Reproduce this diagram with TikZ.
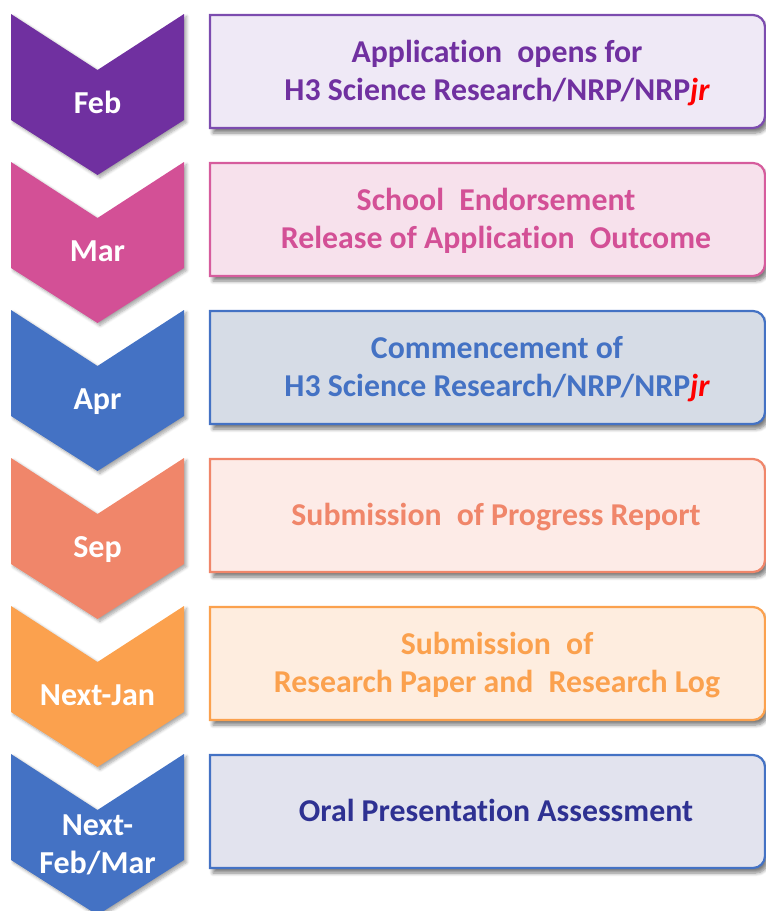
\documentclass[tikz,border=0pt]{standalone}
\usepackage{fontspec}
\setmainfont{Carlito}[RawFeature={-liga}]
\usetikzlibrary{shadows.blur}

% phase colours: chevron / panel fill / panel line / panel text
\definecolor{purpA}{HTML}{7030A0}
\definecolor{purpF}{HTML}{EFE9F6}
\definecolor{purpL}{HTML}{7C4CAF}
\definecolor{pinkA}{HTML}{D35096}
\definecolor{pinkF}{HTML}{F7E1EC}
\definecolor{pinkL}{HTML}{D65C9D}
\definecolor{blueA}{HTML}{4472C4}
\definecolor{blueF}{HTML}{D6DCE6}
\definecolor{salmA}{HTML}{F0866A}
\definecolor{salmF}{HTML}{FDEBE7}
\definecolor{orngA}{HTML}{FBA14E}
\definecolor{orngF}{HTML}{FEEDDF}
\definecolor{navyT}{HTML}{2E3192}
\definecolor{lastF}{HTML}{E2E3EE}
\definecolor{jrred}{HTML}{FF0000}

\newcommand{\jrtag}{{\color{jrred}\itshape jr}}

\begin{document}
\begin{tikzpicture}[x=1pt,y=-1pt,
  chev/.style={fill=#1, blur shadow={shadow xshift=2.5pt, shadow yshift=-2.5pt,
      shadow blur radius=3pt, shadow blur steps=6, shadow opacity=35}},
  panel/.style 2 args={fill=#1, draw=#2, line width=2.2pt,
      blur shadow={shadow xshift=3pt, shadow yshift=-5pt,
      shadow blur radius=3.5pt, shadow blur steps=6, shadow opacity=50}},
  month/.style={text=white, font=\fontsize{32}{38}\selectfont\bfseries,
      align=center, inner sep=0pt},
  stage/.style={text=#1, font=\fontsize{31.8}{38}\selectfont\bfseries,
      align=center, inner sep=0pt}
]
\useasboundingbox (0,0) rectangle (766,911);
\clip (0,0) rectangle (766,911);

% chevron with its top edge at y = #2
\newcommand{\chevron}[2]{%
  \fill[chev=#1] (11,#2) -- (97.5,#2+56) -- (184,#2) -- (184,#2+106)
    -- (97.5,#2+161) -- (11,#2+106) -- cycle;}
% panel with its top edge at y = #3, rounded on the right only
\newcommand{\stagepanel}[3]{%
  \path[panel={#1}{#2}] (210,#3) -- (753,#3)
    .. controls (759.6,#3) and (765,#3+5.4) .. (765,#3+12)
    -- (765,#3+101)
    .. controls (765,#3+107.6) and (759.6,#3+113) .. (753,#3+113)
    -- (210,#3+113) -- cycle;}

% Feb
\chevron{purpA}{14}
\stagepanel{purpF}{purpL}{15}
\node[month, anchor=base] (m1) at (97.5,113) {Feb};
\node[stage=purpA, anchor=base] (s1a) at (497,62.5) {Application\hspace{0.25em} opens for};
\node[stage=purpA, anchor=base] (s1b) at (497,100.5) {H3 Science Research/NRP/NRP\jrtag};

% Mar
\chevron{pinkA}{162}
\stagepanel{pinkF}{pinkL}{163}
\node[month, anchor=base] (m2) at (97.5,261) {Mar};
\node[stage=pinkA, anchor=base] (s2a) at (496,210.5) {School\hspace{0.25em} Endorsement};
\node[stage=pinkA, anchor=base] (s2b) at (496,248.5) {Release of Application\hspace{0.25em} Outcome};

% Apr
\chevron{blueA}{310}
\stagepanel{blueF}{blueA}{311}
\node[month, anchor=base] (m3) at (97.5,409) {Apr};
\node[stage=blueA, anchor=base] (s3a) at (497,358.5) {Commencement of};
\node[stage=blueA, anchor=base] (s3b) at (497,396.5) {H3 Science Research/NRP/NRP\jrtag};

% Sep
\chevron{salmA}{458}
\stagepanel{salmF}{salmA}{459}
\node[month, anchor=base] (m4) at (97.5,557) {Sep};
\node[stage=salmA, anchor=base] (s4) at (496,525.5) {Submission\hspace{0.25em} of Progress Report};

% Next-Jan
\chevron{orngA}{606}
\stagepanel{orngF}{orngA}{607}
\node[month, anchor=base] (m5) at (97.5,705) {Next-Jan};
\node[stage=orngA, anchor=base] (s5a) at (497,654.5) {Submission\hspace{0.25em} of};
\node[stage=orngA, anchor=base] (s5b) at (497,692.5) {Research Paper and\hspace{0.25em} Research Log};

% Next-Feb/Mar
\chevron{blueA}{754}
\stagepanel{lastF}{blueA}{755}
\node[month, anchor=base] (m6a) at (97.5,835) {Next-};
\node[month, anchor=base] (m6b) at (97.5,873) {Feb/Mar};
\node[stage=navyT, anchor=base] (s6) at (496,821.5) {Oral Presentation Assessment};
\end{tikzpicture}
\end{document}
